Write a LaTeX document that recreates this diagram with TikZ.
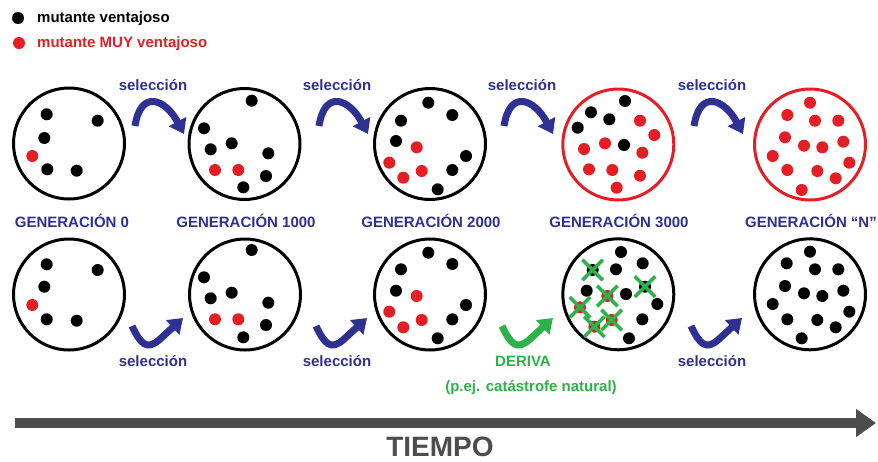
\documentclass[tikz,border=0pt]{standalone}
\usepackage{fontspec}
\setmainfont{Liberation Sans}
\usetikzlibrary{arrows.meta,shapes.misc}
\definecolor{navy}{HTML}{2E3192}
\definecolor{mred}{HTML}{E31E24}
\definecolor{mgreen}{HTML}{2DB24A}
\definecolor{tgray}{HTML}{4D4D4D}
\begin{document}
\begin{tikzpicture}[x=1pt,y=-1pt,
 pop/.style={circle,draw=black,line width=3pt,minimum size=111pt,inner sep=0pt},
 redpop/.style={pop,draw=mred},
 bdot/.style={circle,fill=black,minimum size=12pt,inner sep=0pt},
 rdot/.style={circle,fill=mred,minimum size=12pt,inner sep=0pt},
 xmark/.style={cross out,draw=mgreen,line width=3.5pt,minimum size=17pt,inner sep=0pt},
 lab/.style={font=\bfseries\fontsize{15}{18}\selectfont,inner sep=0pt,text height=11pt,text depth=3pt},
 bluelab/.style={lab,text=navy},
 greenlab/.style={lab,text=mgreen},
 selarrow/.style={draw=navy,line width=7pt,-{Triangle[width=19pt,length=14pt]}},
 derarrow/.style={selarrow,draw=mgreen},
 timearrow/.style={draw=tgray,line width=10pt,-{Triangle[width=27pt,length=20pt]}}
]
\fill[white] (0,0) rectangle (878,461);
\useasboundingbox (0,0) rectangle (878,461);

% legend
\node[bdot] (lb) at (18,18) {};
\node[lab,anchor=west] (lbt) at (37,18) {mutante ventajoso};
\node[rdot] (lr) at (19,43) {};
\node[lab,anchor=west,text=mred] (lrt) at (37,43) {mutante MUY ventajoso};

% populations
\node[pop] (t1) at (69,143.5) {};
\node[pop] (t2) at (244.5,144) {};
\node[pop] (t3) at (430,144) {};
\node[redpop] (t4) at (618.3,144.5) {};
\node[redpop] (t5) at (810,144.5) {};
\node[pop] (b1) at (69,294.5) {};
\node[pop] (b2) at (245,294.5) {};
\node[pop] (b3) at (430,294.5) {};
\node[pop] (b4) at (618.3,294.3) {};
\node[pop] (b5) at (810,294.3) {};

% dots, top row
\foreach \x/\y [count=\i] in {46.7/114.3,97.7/120.7,44.3/138,47.3/169.3,76.7/170.7}
  \node[bdot] (t1b\i) at (\x,\y) {};
\node[rdot] (t1r1) at (32.3,156) {};
\foreach \x/\y [count=\i] in {251.7/100.7,204/128.3,231.7/143.3,210.7/149.3,268.3/153.3,266/176,243.3/187.3}
  \node[bdot] (t2b\i) at (\x,\y) {};
\foreach \x/\y [count=\i] in {215/170,238.3/170}
  \node[rdot] (t2r\i) at (\x,\y) {};
\foreach \x/\y [count=\i] in {428.3/102.7,452.3/115,401/120.7,396/141,466/156,452.3/170,437.7/189.3}
  \node[bdot] (t3b\i) at (\x,\y) {};
\foreach \x/\y [count=\i] in {416.7/147.3,389.3/162.7,421.7/171,403.3/177.7}
  \node[rdot] (t3r\i) at (\x,\y) {};
\foreach \x/\y [count=\i] in {625/101,591/112.3,609.3/119.3,577.7/127.7,624/145}
  \node[bdot] (t4b\i) at (\x,\y) {};
\foreach \x/\y [count=\i] in {640/120.7,654.3/135,605/143.3,584/149,642.3/152.7,589/169.3,612.3/170,640/175.7,616.7/187.7}
  \node[rdot] (t4r\i) at (\x,\y) {};
\foreach \x/\y [count=\i] in {810/102.7,787.3/115,815/120.7,838.3/120.7,785/137.3,843.3/141.7,804/145.7,822.3/147.3,772.7/156,849.3/162.7,787.3/170,817.3/171,835.7/178.3,801.7/190}
  \node[rdot] (t5r\i) at (\x,\y) {};

% dots, bottom row
\foreach \x/\y [count=\i] in {46.7/264.3,97.7/270,44.3/286.7,46.7/319.3,76.7/320.7}
  \node[bdot] (b1b\i) at (\x,\y) {};
\node[rdot] (b1r1) at (32.3,305) {};
\foreach \x/\y [count=\i] in {251.7/250,204/277.3,231.7/292.7,210.7/298.3,268.3/302.7,266/325,243.3/337.3}
  \node[bdot] (b2b\i) at (\x,\y) {};
\foreach \x/\y [count=\i] in {215/319.3,238.3/319.3}
  \node[rdot] (b2r\i) at (\x,\y) {};
\foreach \x/\y [count=\i] in {428.3/252.7,452.3/264,401/269.3,396/290.7,466/305,452.3/319.3,437.7/338.3}
  \node[bdot] (b3b\i) at (\x,\y) {};
\foreach \x/\y [count=\i] in {416.7/296,389.3/311.7,421.7/320,403.3/327.3}
  \node[rdot] (b3r\i) at (\x,\y) {};
\foreach \x/\y [count=\i] in {621/252,616/269.3,642.7/263.3,586.7/290.7,626/294,657.3/304,642.3/319.3,629/338.3,592.7/270,645/286.7}
  \node[bdot] (b4b\i) at (\x,\y) {};
\foreach \x/\y [count=\i] in {607.3/296,580/307.3,611.7/320,594.3/326.7}
  \node[rdot] (b4r\i) at (\x,\y) {};
\foreach \n [count=\i] in {b4b9,b4b10,b4r1,b4r2,b4r3,b4r4}
  \node[xmark] (x\i) at (\n) {};
\foreach \x/\y [count=\i] in {810/251.7,786.7/263.3,815/269.3,838.3/269.3,785/286,843.3/290.7,804/293.3,822.3/296,772.7/304,849.3/311.7,787.3/319.3,817.3/320,835.7/327.3,801.7/338.3}
  \node[bdot] (b5b\i) at (\x,\y) {};

% generation labels
\node[bluelab] (g0) at (72,223) {GENERACIÓN 0};
\node[bluelab] (g1) at (246,223) {GENERACIÓN 1000};
\node[bluelab] (g2) at (431,223) {GENERACIÓN 2000};
\node[bluelab] (g3) at (619,223) {GENERACIÓN 3000};
\node[bluelab] (gn) at (811,223) {GENERACIÓN “N”};

% top selection arrows
\foreach \c [count=\i] in {153,337,522,712} {
  \node[bluelab] (ts\i) at (\c,86) {selección};
  \coordinate (tas\i) at (\c-18,126);
  \coordinate (tae\i) at (\c+31,134);
  \draw[selarrow] (tas\i) .. controls (\c-12,88) and (\c+13,100) .. (tae\i);
}

% bottom selection arrows
\foreach \c [count=\i] in {153,337,712} {
  \node[bluelab] (bs\i) at (\c,362) {selección};
  \coordinate (bas\i) at (\c-21,326);
  \coordinate (bam\i) at (\c+6,340);
  \coordinate (bae\i) at (\c+30,318);
  \draw[selarrow] (bas\i) .. controls (\c-12,345) and (\c-6,350) .. (bam\i) -- (bae\i);
}

% drift
\node[greenlab] (der) at (523,362) {DERIVA};
\node[greenlab] (cat) at (531,387) {(p.ej. catástrofe natural)};
\coordinate (das) at (502,326);
\coordinate (dam) at (529,340);
\coordinate (dae) at (553,318);
\draw[derarrow] (das) .. controls (511,345) and (517,350) .. (dam) -- (dae);

% time axis
\coordinate (tstart) at (15,423);
\coordinate (tend) at (876,423);
\draw[timearrow] (tstart) -- (tend);
\node[font=\bfseries\fontsize{28}{32}\selectfont,text=tgray,inner sep=0pt] (tiempo) at (440,447) {TIEMPO};
\end{tikzpicture}
\end{document}
